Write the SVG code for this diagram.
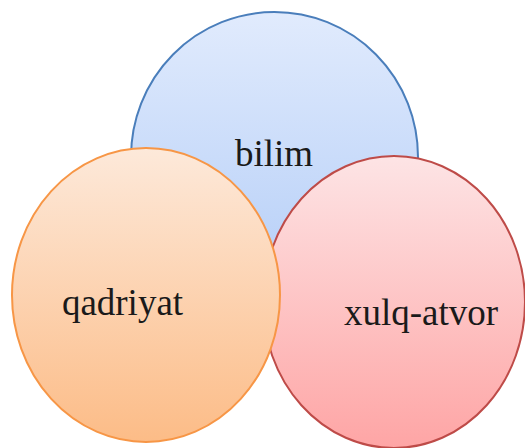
<svg xmlns="http://www.w3.org/2000/svg" width="525" height="448" viewBox="0 0 525 448">
<defs>
<linearGradient id="gBlue" x1="0" y1="0" x2="0" y2="1"><stop offset="0" stop-color="#e1ebfd"/><stop offset="1" stop-color="#b3cdf7"/></linearGradient>
<linearGradient id="gOrange" x1="0" y1="0" x2="0" y2="1"><stop offset="0" stop-color="#fde9da"/><stop offset="1" stop-color="#fcbc87"/></linearGradient>
<linearGradient id="gRed" x1="0" y1="0" x2="0" y2="1"><stop offset="0" stop-color="#fde4e5"/><stop offset="1" stop-color="#fea5a5"/></linearGradient>
</defs>
<style>
.lbl{font-family:"Liberation Serif","Times New Roman",serif;font-size:37px;fill:#1a1a1a;text-anchor:middle}
</style>
<rect width="525" height="448" fill="#ffffff"/>
<g id="bilim">
<ellipse cx="274.5" cy="157" rx="143.5" ry="145" fill="url(#gBlue)" stroke="#4a7ebb" stroke-width="2"/>
<text class="lbl" x="274" y="166">bilim</text>
</g>
<g id="xulq-atvor">
<ellipse cx="394" cy="302" rx="131" ry="146" fill="url(#gRed)" stroke="#be4b48" stroke-width="2"/>
<text class="lbl" x="421" y="325">xulq-atvor</text>
</g>
<g id="qadriyat">
<ellipse cx="146" cy="295" rx="134" ry="147" fill="url(#gOrange)" stroke="#f79646" stroke-width="2"/>
<text class="lbl" x="122.5" y="315">qadriyat</text>
</g>
<g id="connectors"/>
</svg>
